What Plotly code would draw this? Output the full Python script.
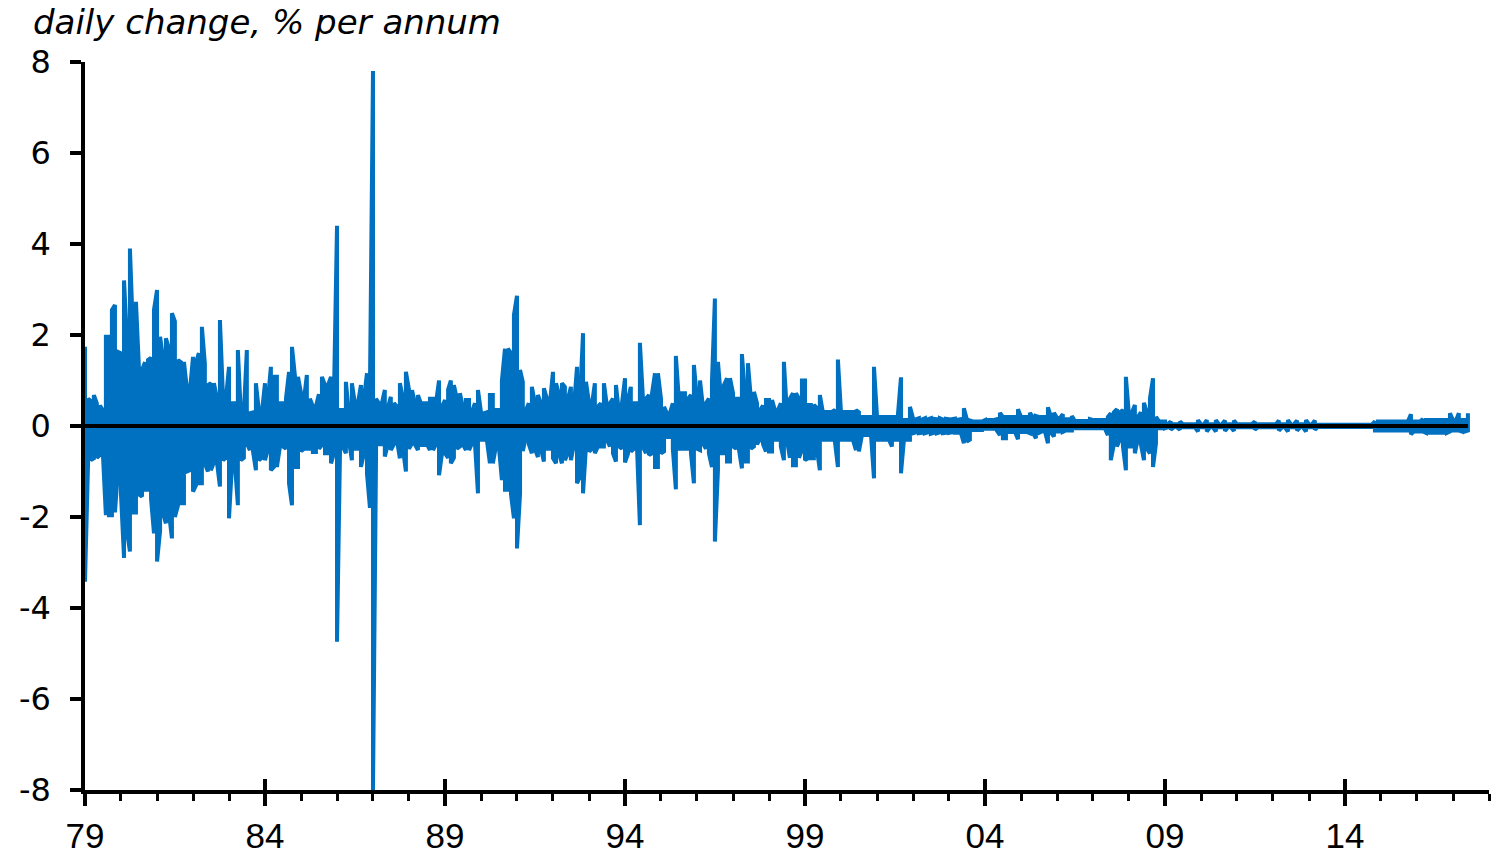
import numpy as np
import pandas as pd
import plotly.graph_objects as go

# Monthly extremes of the daily change in the rate, % per annum (Jan 1979 - Jun 2017)
start_month = "1979-01-01"

monthly_high = [
    1.74, 0.60, 0.55, 0.68, 0.50, 0.45, 0.35, 1.96, 1.96, 2.55, 2.66, 1.63,  # 1979
    1.60, 3.20, 1.90, 3.90, 2.10, 2.73, 1.30, 1.23, 1.40, 1.45, 1.50, 2.55,  # 1980
    2.99, 1.96, 1.50, 1.93, 1.70, 2.48, 2.30, 1.45, 1.40, 1.41, 0.80, 0.79,  # 1981
    1.52, 1.40, 1.60, 2.18, 1.38, 0.90, 0.94, 0.94, 0.60, 2.33, 0.64, 0.60,  # 1982
    1.30, 0.50, 0.50, 1.67, 0.28, 0.30, 1.67, 0.28, 0.30, 0.94, 0.32, 0.30,  # 1983
    0.94, 0.60, 1.30, 1.08, 1.08, 0.50, 0.50, 0.60, 1.19, 1.74, 1.08, 1.08,  # 1984
    0.72, 0.60, 1.12, 0.60, 0.43, 0.43, 0.70, 1.08, 0.90, 0.90, 1.08, 0.70,  # 1985
    4.40, 0.35, 0.35, 0.97, 0.28, 0.94, 0.50, 0.50, 0.90, 0.60, 1.16, 0.80,  # 1986
    7.80, 0.60, 0.50, 0.50, 0.79, 0.40, 0.64, 0.50, 0.43, 0.94, 0.60, 1.19,  # 1987
    0.80, 0.79, 0.50, 0.68, 0.50, 0.50, 0.50, 0.60, 0.60, 0.50, 1.00, 0.43,  # 1988
    0.57, 0.80, 1.00, 0.90, 0.60, 0.72, 0.40, 0.57, 0.57, 0.32, 0.50, 0.79,  # 1989
    0.30, 0.28, 0.30, 0.68, 0.68, 0.35, 0.35, 1.00, 1.70, 1.70, 1.60, 2.44,  # 1990
    2.86, 1.23, 0.97, 0.35, 0.50, 0.86, 0.50, 0.68, 0.50, 0.83, 0.60, 0.50,  # 1991
    1.19, 0.94, 0.70, 0.94, 0.86, 0.60, 0.86, 0.43, 1.30, 0.60, 2.04, 0.97,  # 1992
    0.50, 0.50, 0.94, 0.43, 0.50, 0.94, 0.45, 0.50, 0.60, 0.90, 0.28, 0.50,  # 1993
    1.05, 0.60, 0.86, 0.50, 0.50, 1.83, 0.64, 0.60, 0.68, 0.70, 1.16, 1.16,  # 1994
    0.60, 0.42, 0.28, 0.28, 0.50, 1.54, 0.60, 0.72, 0.72, 0.60, 0.68, 1.34,  # 1995
    0.60, 1.00, 0.43, 0.50, 0.60, 0.97, 2.80, 1.41, 0.60, 0.90, 1.05, 1.05,  # 1996
    0.72, 0.60, 0.60, 1.58, 0.72, 1.38, 0.60, 0.75, 0.50, 0.35, 0.45, 0.57,  # 1997
    0.57, 0.57, 0.35, 0.35, 0.50, 1.41, 0.32, 0.60, 0.72, 0.72, 0.60, 1.00,  # 1998
    1.00, 0.46, 0.46, 0.46, 0.40, 0.68, 0.31, 0.31, 0.31, 0.31, 0.35, 1.46,  # 1999
    0.31, 0.31, 0.31, 0.31, 0.31, 0.35, 0.30, 0.20, 0.20, 0.20, 0.20, 1.30,  # 2000
    0.20, 0.20, 0.20, 0.20, 0.20, 0.20, 0.20, 0.25, 1.07, 0.13, 0.13, 0.42,  # 2001
    0.17, 0.15, 0.17, 0.14, 0.17, 0.15, 0.17, 0.16, 0.15, 0.17, 0.14, 0.16,  # 2002
    0.15, 0.15, 0.16, 0.14, 0.15, 0.39, 0.15, 0.12, 0.10, 0.10, 0.10, 0.10,  # 2003
    0.13, 0.13, 0.13, 0.13, 0.15, 0.29, 0.20, 0.20, 0.20, 0.20, 0.20, 0.37,  # 2004
    0.20, 0.20, 0.20, 0.29, 0.20, 0.22, 0.20, 0.20, 0.20, 0.41, 0.20, 0.29,  # 2005
    0.18, 0.18, 0.26, 0.15, 0.15, 0.22, 0.11, 0.11, 0.11, 0.11, 0.11, 0.15,  # 2006
    0.13, 0.13, 0.13, 0.13, 0.13, 0.20, 0.28, 0.30, 0.37, 0.30, 0.35, 1.08,  # 2007
    0.24, 0.30, 0.46, 0.20, 0.30, 0.51, 0.30, 0.60, 1.05, 0.20, 0.10, 0.10,  # 2008
    0.10, 0.05, 0.10, 0.04, 0.04, 0.10, 0.04, 0.04, 0.04, 0.04, 0.04, 0.13,  # 2009
    0.04, 0.04, 0.13, 0.04, 0.04, 0.13, 0.04, 0.04, 0.12, 0.04, 0.04, 0.12,  # 2010
    0.04, 0.04, 0.04, 0.04, 0.04, 0.04, 0.10, 0.04, 0.04, 0.04, 0.04, 0.04,  # 2011
    0.04, 0.04, 0.12, 0.04, 0.04, 0.13, 0.04, 0.04, 0.12, 0.04, 0.04, 0.13,  # 2012
    0.04, 0.04, 0.12, 0.03, 0.03, 0.03, 0.03, 0.03, 0.03, 0.03, 0.03, 0.03,  # 2013
    0.03, 0.03, 0.03, 0.03, 0.03, 0.03, 0.03, 0.03, 0.03, 0.03, 0.10, 0.10,  # 2014
    0.10, 0.10, 0.10, 0.10, 0.10, 0.10, 0.10, 0.10, 0.10, 0.10, 0.26, 0.10,  # 2015
    0.10, 0.10, 0.15, 0.13, 0.13, 0.13, 0.13, 0.13, 0.13, 0.13, 0.13, 0.28,  # 2016
    0.13, 0.13, 0.28, 0.13, 0.13, 0.28,                                      # 2017
]

monthly_low = [
    -3.42, -0.82, -0.75, -0.71, -0.70, -0.64, -0.60, -1.96, -1.96, -1.96, -1.90, -1.00,  # 1979
    -1.50, -2.90, -2.30, -2.76, -1.90, -1.90, -1.50, -1.55, -1.40, -1.40, -1.60, -2.36,  # 1980
    -2.98, -2.30, -1.90, -2.14, -1.90, -2.47, -2.00, -1.75, -1.70, -1.70, -1.00, -0.97,  # 1981
    -1.44, -1.30, -1.26, -1.26, -0.82, -1.00, -0.97, -0.80, -0.80, -1.33, -0.75, -0.70,  # 1982
    -2.03, -0.82, -0.80, -1.74, -0.75, -0.70, -0.38, -0.53, -0.55, -0.97, -0.75, -0.70,  # 1983
    -0.75, -0.50, -0.97, -0.90, -0.90, -0.45, -0.45, -0.50, -1.26, -1.74, -0.90, -0.90,  # 1984
    -0.55, -0.50, -0.50, -0.50, -0.57, -0.57, -0.50, -0.42, -0.60, -0.60, -0.82, -0.60,  # 1985
    -4.74, -0.45, -0.45, -0.60, -0.31, -0.75, -0.50, -0.50, -0.90, -0.60, -1.04, -1.80,  # 1986
    -8.00, -0.60, -0.40, -0.40, -0.67, -0.40, -0.53, -0.40, -0.31, -0.71, -0.50, -1.00,  # 1987
    -0.50, -0.38, -0.40, -0.53, -0.42, -0.42, -0.40, -0.53, -0.53, -0.40, -1.08, -0.60,  # 1988
    -0.60, -0.70, -0.82, -0.70, -0.50, -0.45, -0.40, -0.53, -0.53, -0.38, -0.40, -1.48,  # 1989
    -0.30, -0.30, -0.30, -0.82, -0.82, -0.45, -0.45, -1.19, -1.40, -1.40, -1.50, -2.03,  # 1990
    -2.69, -1.48, -0.55, -0.24, -0.40, -0.60, -0.50, -0.68, -0.50, -0.78, -0.50, -0.50,  # 1991
    -0.71, -0.82, -0.60, -0.82, -0.75, -0.60, -0.75, -0.40, -1.26, -1.11, -1.48, -0.45,  # 1992
    -0.56, -0.50, -0.60, -0.45, -0.45, -0.45, -0.31, -0.45, -0.60, -0.78, -0.45, -0.50,  # 1993
    -0.80, -0.60, -0.56, -0.50, -0.38, -2.18, -0.45, -0.60, -0.64, -0.60, -0.90, -0.90,  # 1994
    -0.60, -0.56, -0.24, -0.24, -0.50, -1.39, -0.50, -0.50, -0.50, -0.50, -0.60, -1.26,  # 1995
    -0.50, -0.53, -0.38, -0.50, -0.60, -0.90, -2.54, -0.97, -0.60, -0.60, -0.78, -0.78,  # 1996
    -0.45, -0.50, -0.50, -0.93, -0.78, -0.78, -0.50, -0.45, -0.40, -0.30, -0.40, -0.56,  # 1997
    -0.56, -0.56, -0.30, -0.30, -0.45, -0.75, -0.30, -0.70, -0.86, -0.86, -0.70, -0.53,  # 1998
    -0.75, -0.71, -0.71, -0.71, -0.50, -0.97, -0.30, -0.30, -0.30, -0.30, -0.35, -0.90,  # 1999
    -0.30, -0.30, -0.30, -0.30, -0.30, -0.53, -0.56, -0.20, -0.20, -0.20, -0.20, -1.15,  # 2000
    -0.30, -0.30, -0.30, -0.30, -0.30, -0.45, -0.30, -0.30, -1.04, -0.30, -0.30, -0.30,  # 2001
    -0.16, -0.14, -0.16, -0.15, -0.16, -0.14, -0.17, -0.15, -0.16, -0.14, -0.16, -0.15,  # 2002
    -0.15, -0.14, -0.15, -0.15, -0.14, -0.38, -0.34, -0.30, -0.09, -0.09, -0.09, -0.09,  # 2003
    -0.06, -0.06, -0.06, -0.06, -0.10, -0.20, -0.27, -0.27, -0.13, -0.13, -0.13, -0.29,  # 2004
    -0.13, -0.13, -0.13, -0.16, -0.15, -0.27, -0.15, -0.12, -0.12, -0.38, -0.15, -0.23,  # 2005
    -0.12, -0.12, -0.13, -0.10, -0.10, -0.10, -0.05, -0.05, -0.05, -0.05, -0.05, -0.05,  # 2006
    -0.05, -0.05, -0.05, -0.05, -0.05, -0.20, -0.75, -0.40, -0.45, -0.30, -0.45, -0.97,  # 2007
    -0.45, -0.45, -0.60, -0.27, -0.40, -0.75, -0.50, -0.60, -0.90, -0.38, -0.05, -0.05,  # 2008
    -0.05, -0.03, -0.08, -0.03, -0.03, -0.08, -0.03, -0.03, -0.03, -0.03, -0.03, -0.12,  # 2009
    -0.03, -0.03, -0.12, -0.03, -0.03, -0.12, -0.03, -0.03, -0.11, -0.03, -0.03, -0.11,  # 2010
    -0.03, -0.03, -0.03, -0.03, -0.03, -0.03, -0.08, -0.03, -0.03, -0.03, -0.03, -0.03,  # 2011
    -0.03, -0.03, -0.10, -0.03, -0.03, -0.12, -0.03, -0.03, -0.10, -0.03, -0.03, -0.12,  # 2012
    -0.03, -0.03, -0.08, -0.02, -0.02, -0.02, -0.02, -0.02, -0.02, -0.02, -0.02, -0.02,  # 2013
    -0.02, -0.02, -0.02, -0.02, -0.02, -0.02, -0.02, -0.02, -0.02, -0.02, -0.10, -0.10,  # 2014
    -0.10, -0.10, -0.10, -0.10, -0.10, -0.10, -0.10, -0.10, -0.10, -0.10, -0.18, -0.12,  # 2015
    -0.12, -0.12, -0.12, -0.15, -0.15, -0.15, -0.15, -0.15, -0.15, -0.15, -0.15, -0.12,  # 2016
    -0.10, -0.10, -0.10, -0.12, -0.12, -0.10,                                            # 2017
]

tick_years = [1979, 1984, 1989, 1994, 1999, 2004, 2009, 2014]
tick_labels = ["79", "84", "89", "94", "99", "04", "09", "14"]
y_ticks = [-8, -6, -4, -2, 0, 2, 4, 6, 8]
y_title = "daily change, % per annum"

assert len(monthly_high) == len(monthly_low)

months = pd.date_range(start_month, periods=len(monthly_high), freq="MS")

# Each month is a vertical stroke between its high and its low; the stroke
# direction alternates so consecutive strokes join along the envelope.
strokes = np.column_stack([monthly_high, monthly_low])
strokes[1::2] = strokes[1::2, ::-1]
x_series = months.repeat(2)
y_series = strokes.ravel()

x_range = ["1979-01-01", "2018-01-01"]
major_tickvals = [f"{y}-01-01" for y in tick_years]

BLUE = "#0070C0"
PLOT_W, PLOT_H = 1404, 728

fig = go.Figure()
fig.add_trace(go.Scatter(
    x=x_series, y=y_series, mode="lines",
    line=dict(color=BLUE, width=4),
    hoverinfo="skip", showlegend=False,
))
# black zero line over the series, spanning the data period
fig.add_trace(go.Scatter(
    x=[months[0], months[-1]], y=[0, 0], mode="lines",
    line=dict(color="black", width=4),
    xaxis="x2", hoverinfo="skip", showlegend=False,
))

fig.update_layout(
    width=1492, height=855,
    margin=dict(l=85, r=3, t=62, b=65, autoexpand=False),
    paper_bgcolor="white", plot_bgcolor="white",
    showlegend=False,
    xaxis=dict(
        type="date", range=x_range, automargin=False,
        tickmode="array", tickvals=major_tickvals, ticktext=tick_labels,
        ticks="outside", ticklen=12, tickwidth=4, tickcolor="black",
        minor=dict(dtick="M12", tick0="1979-01-01", ticks="outside",
                   ticklen=7, tickwidth=3, tickcolor="black", showgrid=False),
        showline=True, linecolor="black", linewidth=4,
        showgrid=False, zeroline=False,
        tickfont=dict(family="Liberation Sans, Arial", size=35, color="black"),
        ticklabelstandoff=0,
    ),
    xaxis2=dict(
        type="date", range=x_range, overlaying="x", anchor="y", side="bottom",
        automargin=False,
        tickmode="array", tickvals=major_tickvals,
        ticks="inside", ticklen=11, tickwidth=4, tickcolor="black",
        showticklabels=False, showline=False, showgrid=False, zeroline=False,
    ),
    yaxis=dict(
        range=[-8, 8], automargin=False,
        tickmode="array", tickvals=y_ticks,
        ticktext=[str(v) for v in y_ticks],
        ticks="outside", ticklen=11, tickwidth=4, tickcolor="black",
        showline=True, linecolor="black", linewidth=3.5,
        showgrid=False, zeroline=False,
        tickfont=dict(family="DejaVu Sans", size=32, color="black"),
        ticklabelstandoff=13,
    ),
    annotations=[dict(
        text=f"<i>{y_title}</i>", xref="paper", yref="paper",
        x=-54 / PLOT_W, y=1.0 + 62 / PLOT_H, xanchor="left", yanchor="top",
        showarrow=False, font=dict(family="DejaVu Sans", size=34, color="black"),
    )],
    shapes=[dict(
        type="line", xref="paper", yref="paper", x0=-12 / PLOT_W, x1=0, y0=0, y1=0,
        line=dict(color="black", width=4),
    )],
)

fig.write_html("out.html")
